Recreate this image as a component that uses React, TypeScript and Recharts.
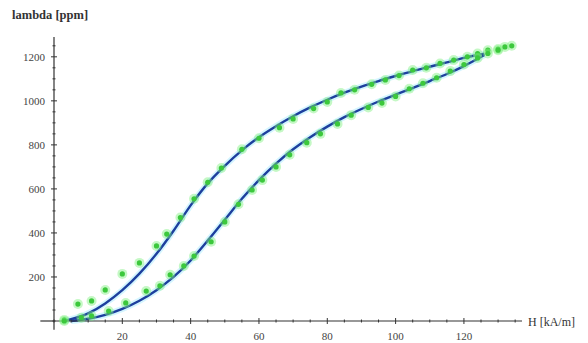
import { ComposedChart, Scatter, Line, XAxis, YAxis, ReferenceLine } from 'recharts'

// decreasing-field branch (upper) and increasing-field branch (lower), H in kA/m, lambda in ppm
const upperFit = [
  [3, 0], [5, 8], [10, 35], [15, 80], [20, 140], [25, 215], [30, 305], [35, 410], [40, 525],
  [45, 625], [50, 705], [55, 775], [60, 835], [65, 885], [70, 930], [75, 970], [80, 1005],
  [85, 1037], [90, 1065], [95, 1090], [100, 1113], [105, 1135], [110, 1155], [115, 1175],
  [120, 1195], [126, 1214],
]
const lowerFit = [
  [5, 0], [10, 10], [15, 28], [20, 55], [25, 92], [30, 140], [35, 200], [40, 275], [45, 365],
  [50, 460], [55, 555], [60, 640], [65, 715], [70, 780], [75, 835], [80, 883], [85, 926],
  [90, 963], [95, 997], [100, 1028], [105, 1058], [110, 1090], [115, 1122], [120, 1158], [126, 1208],
]
const upperPts = [
  [3, 5], [7, 77], [11, 91], [15, 141], [20, 214], [25, 264], [30, 341], [33, 395], [37, 470],
  [41, 555], [45, 630], [49, 695], [55, 780], [60, 830], [66, 878], [70, 918], [76, 965],
  [80, 995], [84, 1036], [88, 1050], [93, 1075], [97, 1095], [101, 1115], [105, 1140],
  [109, 1150], [113, 1170], [117, 1185], [121, 1200], [124, 1215], [127, 1230], [130, 1235],
  [132, 1245], [134, 1250],
]
const lowerPts = [
  [3, 0], [8, 15], [11, 23], [16, 45], [21, 82], [27, 136], [31, 160], [34, 210], [38, 250],
  [41, 295], [46, 360], [50, 450], [54, 530], [58, 595], [61, 640], [65, 700], [69, 755],
  [74, 810], [78, 850], [83, 895], [87, 935], [92, 970], [96, 990], [100, 1020], [104, 1055],
  [108, 1080], [112, 1105], [116, 1135], [120, 1165], [124, 1195], [127, 1215], [130, 1230],
]
const xTicks = [0, 5, 10, 15, 20, 25, 30, 35, 40, 45, 50, 55, 60, 65, 70, 75, 80, 85, 90, 95, 100, 105, 110, 115, 120, 125, 130, 135]
const xLabels = [20, 40, 60, 80, 100, 120]
const yTicks = [0, 50, 100, 150, 200, 250, 300, 350, 400, 450, 500, 550, 600, 650, 700, 750, 800, 850, 900, 950, 1000, 1050, 1100, 1150, 1200, 1250]
const yLabels = [200, 400, 600, 800, 1000, 1200]

const toRows = (arr: number[][]) => arr.map(([h, l]) => ({ h, l }))

const font = { fontFamily: 'Liberation Serif', fontSize: 11, fill: '#444' }

function XTick(props: any) {
  const { x, y, payload } = props
  const major = xLabels.includes(payload.value)
  const s = major ? 3 : 1.5
  return (
    <g>
      <line x1={x} x2={x} y1={y - s} y2={y + s} stroke="#333" />
      {major && <text x={x} y={y + 19} textAnchor="middle" {...font}>{payload.value}</text>}
    </g>
  )
}

function YTick(props: any) {
  const { x, y, payload } = props
  const major = yLabels.includes(payload.value)
  const s = major ? 3 : 1.5
  return (
    <g>
      <line x1={x - s} x2={x + s} y1={y} y2={y} stroke="#333" />
      {major && <text x={x - 9} y={y + 4} textAnchor="end" {...font}>{payload.value}</text>}
    </g>
  )
}

function Dot(props: any) {
  const { cx, cy } = props
  return (
    <g>
      <circle cx={cx} cy={cy} r={5} fill="#7ef07e" fillOpacity={0.45} />
      <circle cx={cx} cy={cy} r={2.6} fill="#3cc83c" />
    </g>
  )
}

export default function App() {
  return (
    <div style={{ position: 'absolute', left: 0, top: 0, width: 588, height: 343, background: '#fff' }}>
      <ComposedChart width={588} height={343} margin={{ top: 37, right: 66, bottom: 0, left: 0 }}>
        <XAxis type="number" dataKey="h" domain={[0, 137]} ticks={xTicks} interval={0} height={22}
          tickSize={0} tickMargin={0} tickLine={false} tick={<XTick />} axisLine={{ stroke: '#333', strokeWidth: 1.2 }} />
        <YAxis type="number" dataKey="l" domain={[0, 1290]} ticks={yTicks} interval={0} width={54}
          tickSize={0} tickMargin={0} tickLine={false} tick={<YTick />} axisLine={{ stroke: '#333', strokeWidth: 1.2 }} />
        <ReferenceLine segment={[{ x: -4, y: 0 }, { x: 0, y: 0 }]} ifOverflow="visible" stroke="#333" strokeWidth={1.2} />
        <ReferenceLine segment={[{ x: 0, y: -40 }, { x: 0, y: 0 }]} ifOverflow="visible" stroke="#333" strokeWidth={1.2} />
        <Scatter data={toRows(upperPts)} dataKey="l" shape={<Dot />} isAnimationActive={false} />
        <Scatter data={toRows(lowerPts)} dataKey="l" shape={<Dot />} isAnimationActive={false} />
        <Line data={toRows(upperFit)} dataKey="l" type="monotone" stroke="#c9f2ff" strokeOpacity={0.8} strokeWidth={6} dot={false} isAnimationActive={false} />
        <Line data={toRows(lowerFit)} dataKey="l" type="monotone" stroke="#c9f2ff" strokeOpacity={0.8} strokeWidth={6} dot={false} isAnimationActive={false} />
        <Line data={toRows(upperFit)} dataKey="l" type="monotone" stroke="#1d3f9e" strokeWidth={2.4} dot={false} isAnimationActive={false} />
        <Line data={toRows(lowerFit)} dataKey="l" type="monotone" stroke="#1d3f9e" strokeWidth={2.4} dot={false} isAnimationActive={false} />
        <text x={12} y={19} fontFamily="Liberation Serif" fontSize={12.5} fontWeight="bold" fill="#333">lambda [ppm]</text>
        <text x={528} y={326} fontFamily="Liberation Serif" fontSize={12} fill="#333">H [kA/m]</text>
      </ComposedChart>
    </div>
  )
}
